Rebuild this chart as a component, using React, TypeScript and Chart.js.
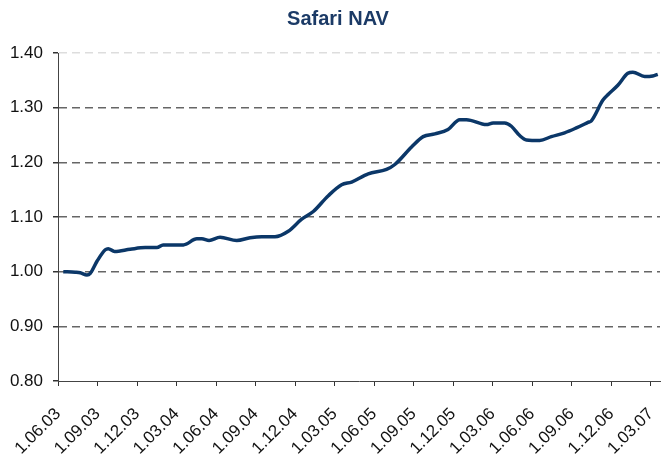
import React, { useEffect, useRef } from "react";
import { Chart, registerables } from "chart.js";

Chart.register(...registerables);

const TITLE = "Safari NAV";

// months since 1 June 2003
const monthIndex = [
  0.40, 1.31, 1.69, 2.20, 2.45, 2.96, 3.59, 3.81, 4.29, 5.48,
  6.62, 7.51, 7.98, 9.52, 10.54, 10.92, 11.47, 12.30, 13.57, 14.58,
  15.47, 16.47, 17.48, 18.50, 19.38, 20.52, 21.53, 22.29, 23.55, 24.94,
  25.57, 26.84, 27.72, 28.61, 29.61, 30.50, 31.01, 32.52, 33.03, 33.91,
  34.42, 35.05, 35.56, 36.57, 37.45, 38.46, 39.35, 40.23, 40.49, 41.37,
  41.80, 42.50, 43.26, 43.64, 44.53, 45.15, 45.53,
];

const navValues = [
  1.000, 0.999, 0.998, 0.994, 0.997, 1.019, 1.040, 1.042, 1.037, 1.041,
  1.044, 1.044, 1.049, 1.049, 1.060, 1.060, 1.057, 1.063, 1.057, 1.062,
  1.064, 1.064, 1.074, 1.096, 1.110, 1.139, 1.159, 1.164, 1.179, 1.187,
  1.196, 1.228, 1.247, 1.252, 1.260, 1.278, 1.278, 1.269, 1.272, 1.272,
  1.266, 1.249, 1.241, 1.240, 1.247, 1.254, 1.263, 1.273, 1.276, 1.314,
  1.325, 1.341, 1.363, 1.365, 1.357, 1.358, 1.361,
];

const xTickMonths = [0, 3, 6, 9, 12, 15, 18, 21, 24, 27, 30, 33, 36, 39, 42, 45];
const xTickLabels = [
  "1.06.03", "1.09.03", "1.12.03", "1.03.04", "1.06.04", "1.09.04",
  "1.12.04", "1.03.05", "1.06.05", "1.09.05", "1.12.05", "1.03.06",
  "1.06.06", "1.09.06", "1.12.06", "1.03.07",
];
const xMin = 0;
const xMax = 45.7;

const yMin = 0.8;
const yMax = 1.4;
const yStep = 0.1;

const LINE_COLOR = "#0b3768";
const TITLE_COLOR = "#1b3a66";
const LABEL_FONT = '"Liberation Sans", Arial, sans-serif';

export default function App() {
  const canvasRef = useRef<HTMLCanvasElement | null>(null);

  useEffect(() => {
    const canvas = canvasRef.current;
    if (!canvas) return;

    const titlePlugin = {
      id: "customTitle",
      afterDraw(chart: any) {
        const ctx = chart.ctx;
        ctx.save();
        ctx.font = 'bold 20px "Liberation Sans Narrow", "Arial Narrow", "Liberation Sans", sans-serif';
        ctx.fillStyle = TITLE_COLOR;
        ctx.textAlign = "center";
        ctx.textBaseline = "alphabetic";
        ctx.fillText(TITLE, 338, 25);
        ctx.restore();
      },
    };

    const chart = new Chart(canvas, {
      type: "line",
      data: {
        datasets: [
          {
            label: TITLE,
            data: monthIndex.map((m, i) => ({ x: m, y: navValues[i] })),
            borderColor: LINE_COLOR,
            backgroundColor: LINE_COLOR,
            borderWidth: 3.5,
            pointRadius: 0,
            cubicInterpolationMode: "monotone",
            fill: false,
          },
        ],
      },
      options: {
        animation: false,
        responsive: true,
        maintainAspectRatio: false,
        layout: { padding: { top: 53, right: 2, bottom: 0, left: 0 } },
        plugins: {
          legend: { display: false },
          title: { display: false },
          tooltip: { enabled: false },
        },
        scales: {
          x: {
            type: "linear",
            min: xMin,
            max: xMax,
            afterBuildTicks: (scale: any) => {
              scale.ticks = xTickMonths.map((v) => ({ value: v }));
            },
            afterFit: (scale: any) => {
              scale.height = 78;
              scale.paddingLeft = 0;
              scale.paddingRight = 0;
            },
            ticks: {
              autoSkip: false,
              maxRotation: 45,
              minRotation: 45,
              padding: 18,
              color: "#111",
              font: { family: LABEL_FONT, size: 17 },
              callback: (value: any) => {
                const idx = xTickMonths.indexOf(Number(value));
                return idx >= 0 ? xTickLabels[idx] : "";
              },
            },
            grid: {
              display: true,
              drawOnChartArea: false,
              drawTicks: true,
              tickLength: 5,
              tickColor: "#333",
            },
            border: { display: true, color: "#444", width: 1 },
          },
          y: {
            type: "linear",
            min: yMin,
            max: yMax,
            afterFit: (scale: any) => {
              scale.width = 58;
            },
            ticks: {
              stepSize: yStep,
              padding: 10,
              color: "#111",
              font: { family: LABEL_FONT, size: 17 },
              callback: (value: any) => Number(value).toFixed(2),
            },
            grid: {
              drawTicks: true,
              tickLength: 5,
              tickColor: "#333",
              tickBorderDash: [],
              lineWidth: 1.5,
              color: (ctx: any) => {
                const v = ctx.tick ? ctx.tick.value : 0;
                if (v <= yMin + 1e-6) return "rgba(0,0,0,0)";
                if (v >= yMax - 1e-6) return "#dddddd";
                return "#666666";
              },
            },
            border: { display: true, color: "#444", width: 1, dash: [8, 5] },
          },
        },
      },
      plugins: [titlePlugin],
    } as any);

    return () => {
      chart.destroy();
    };
  }, []);

  return (
    <div style={{ position: "absolute", left: 0, top: 0, width: 662, height: 459, background: "#fff" }}>
      <canvas ref={canvasRef} />
    </div>
  );
}
